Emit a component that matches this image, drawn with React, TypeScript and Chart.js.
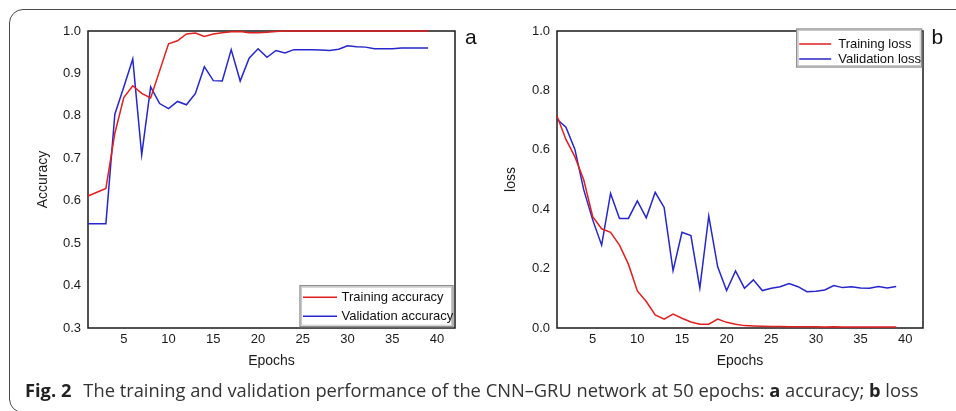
import React, { useEffect, useRef } from 'react';
import { Chart, registerables } from 'chart.js';

Chart.register(...registerables);

// ---------- data ----------
const epochs = [1, 2, 3, 4, 5, 6, 7, 8, 9, 10, 11, 12, 13, 14, 15, 16, 17, 18, 19, 20,
  21, 22, 23, 24, 25, 26, 27, 28, 29, 30, 31, 32, 33, 34, 35, 36, 37, 38, 39];

const trainingAccuracy = [0.611, 0.620, 0.629, 0.759, 0.843, 0.871, 0.853, 0.842, 0.906, 0.970,
  0.977, 0.993, 0.995, 0.987, 0.993, 0.996, 0.998, 0.999, 0.996, 0.996,
  0.997, 0.999, 1.0, 1.0, 1.0, 1.0, 1.0, 1.0, 1.0, 1.0,
  1.0, 1.0, 1.0, 1.0, 1.0, 1.0, 1.0, 1.0, 1.0];

const validationAccuracy = [0.546, 0.546, 0.546, 0.804, 0.868, 0.934, 0.708, 0.868, 0.829, 0.817,
  0.834, 0.826, 0.853, 0.916, 0.883, 0.882, 0.956, 0.882, 0.936, 0.958,
  0.938, 0.954, 0.948, 0.956, 0.956, 0.956, 0.955, 0.954, 0.957, 0.965,
  0.963, 0.962, 0.958, 0.958, 0.958, 0.960, 0.960, 0.960, 0.960];

const trainingLoss = [0.714, 0.635, 0.577, 0.498, 0.375, 0.334, 0.322, 0.279, 0.215, 0.125,
  0.089, 0.044, 0.030, 0.047, 0.033, 0.020, 0.013, 0.013, 0.030, 0.019,
  0.013, 0.008, 0.007, 0.006, 0.005, 0.005, 0.004, 0.004, 0.004, 0.004,
  0.003, 0.004, 0.003, 0.003, 0.003, 0.003, 0.003, 0.003, 0.003];

const validationLoss = [0.703, 0.676, 0.602, 0.465, 0.364, 0.279, 0.453, 0.369, 0.369, 0.428,
  0.371, 0.457, 0.406, 0.193, 0.322, 0.311, 0.134, 0.377, 0.206, 0.126,
  0.192, 0.134, 0.162, 0.126, 0.134, 0.139, 0.150, 0.139, 0.122, 0.124,
  0.128, 0.143, 0.136, 0.139, 0.135, 0.134, 0.140, 0.135, 0.140];

const xTickValues = [5, 10, 15, 20, 25, 30, 35, 40];
const accuracyTickValues = [0.3, 0.4, 0.5, 0.6, 0.7, 0.8, 0.9, 1.0];
const lossTickValues = [0.0, 0.2, 0.4, 0.6, 0.8, 1.0];

const accuracyLabels = ['Training accuracy', 'Validation accuracy'];
const lossLabels = ['Training loss', 'Validation loss'];

const RED = '#e01f1f';
const BLUE = '#2626cc';
const FONT = "Arial, 'Liberation Sans', sans-serif";

// ---------- plugins ----------
const framePlugin = {
  id: 'frame',
  beforeDatasetsDraw(chart: any) {
    const { ctx, chartArea: a } = chart;
    ctx.save();
    ctx.strokeStyle = '#1a1a1a';
    ctx.lineWidth = 1.5;
    ctx.strokeRect(a.left, a.top, a.right - a.left, a.bottom - a.top);
    ctx.restore();
  },
};

const boxLegend = {
  id: 'boxLegend',
  afterDatasetsDraw(chart: any, _args: any, o: any) {
    if (!o || !o.w) return;
    const { ctx, chartArea: a } = chart;
    const left = a.right - o.offRight - o.w;
    const top = o.anchor === 'bottom' ? a.bottom - o.offBottom - o.h : a.top + o.offTop;
    ctx.save();
    ctx.fillStyle = '#ffffff';
    ctx.fillRect(left, top, o.w, o.h);
    ctx.strokeStyle = '#c8c8c8';
    ctx.lineWidth = 1;
    ctx.strokeRect(left + 1.5, top + 1.5, o.w - 3, o.h - 3);
    ctx.strokeStyle = '#8a8a8a';
    ctx.lineWidth = 1.3;
    ctx.strokeRect(left, top, o.w, o.h);
    ctx.font = '13px ' + FONT;
    ctx.textBaseline = 'middle';
    ctx.textAlign = 'left';
    chart.data.datasets.forEach((ds: any, i: number) => {
      const y = top + o.firstRow + i * o.rowGap;
      ctx.strokeStyle = ds.borderColor;
      ctx.lineWidth = 1.6;
      ctx.beginPath();
      ctx.moveTo(left + o.sx0, y);
      ctx.lineTo(left + o.sx1, y);
      ctx.stroke();
      ctx.fillStyle = '#111';
      ctx.fillText(ds.label, left + o.tx, y + 0.5);
    });
    ctx.restore();
  },
};

function makeConfig(
  labels: string[],
  train: number[],
  valid: number[],
  yTicks: number[],
  yMin: number,
  yMax: number,
  yTitle: string,
  yAxisWidth: number,
  yTitlePad: number,
  padRight: number,
  legend: any
): any {
  return {
    type: 'line',
    data: {
      labels: epochs,
      datasets: [
        { label: labels[0], data: train, borderColor: RED, borderWidth: 1.5, pointRadius: 0, tension: 0, fill: false, clip: 3 },
        { label: labels[1], data: valid, borderColor: BLUE, borderWidth: 1.5, pointRadius: 0, tension: 0, fill: false, clip: 3 },
      ],
    },
    options: {
      responsive: false,
      animation: false,
      devicePixelRatio: 1,
      layout: { padding: { left: 0, top: 31, right: padRight, bottom: 0 } },
      plugins: {
        legend: { display: false },
        tooltip: { enabled: false },
        boxLegend: legend,
      },
      scales: {
        x: {
          type: 'linear',
          min: 1,
          max: 42,
          grid: { display: false, drawTicks: false },
          border: { display: false },
          afterBuildTicks: (axis: any) => {
            axis.ticks = xTickValues.map((v) => ({ value: v }));
          },
          afterFit: (axis: any) => {
            axis.height = 52;
          },
          ticks: {
            padding: 4,
            maxRotation: 0,
            autoSkip: false,
            color: '#1a1a1a',
            font: { family: FONT, size: 13 },
            callback: (v: any) => String(v),
          },
          title: {
            display: true,
            text: 'Epochs',
            color: '#1a1a1a',
            font: { family: FONT, size: 14 },
            padding: { top: 0, bottom: 10 },
          },
        },
        y: {
          type: 'linear',
          min: yMin,
          max: yMax,
          grid: { display: false, drawTicks: false },
          border: { display: false },
          afterBuildTicks: (axis: any) => {
            axis.ticks = yTicks.map((v) => ({ value: v }));
          },
          afterFit: (axis: any) => {
            axis.width = yAxisWidth;
          },
          ticks: {
            padding: 7,
            autoSkip: false,
            color: '#1a1a1a',
            font: { family: FONT, size: 13 },
            callback: (v: any) => Number(v).toFixed(1),
          },
          title: {
            display: true,
            text: yTitle,
            color: '#1a1a1a',
            font: { family: FONT, size: 14 },
            padding: { top: yTitlePad, bottom: 0 },
          },
        },
      },
    },
    plugins: [framePlugin, boxLegend],
  };
}

function ChartCanvas({ config, width, height }: { config: any; width: number; height: number }) {
  const ref = useRef<HTMLCanvasElement | null>(null);
  useEffect(() => {
    if (!ref.current) return;
    const chart = new Chart(ref.current, config);
    return () => chart.destroy();
  }, [config]);
  return <canvas ref={ref} width={width} height={height} style={{ width, height, display: 'block' }} />;
}

const accuracyConfig = makeConfig(
  accuracyLabels, trainingAccuracy, validationAccuracy, accuracyTickValues, 0.3, 1.0,
  'Accuracy', 88, 34.5, 25,
  { w: 153, h: 41, offRight: 2, offBottom: 1.3, anchor: 'bottom', firstRow: 11.5, rowGap: 19, sx0: 3, sx1: 37, tx: 41.5 }
);

const lossConfig = makeConfig(
  lossLabels, trainingLoss, validationLoss, lossTickValues, 0.0, 1.0,
  'loss', 77, 22.5, 33,
  { w: 125, h: 38, offRight: 1.3, offTop: -2, anchor: 'top', firstRow: 15, rowGap: 15, sx0: 2.5, sx1: 34.5, tx: 41.5 }
);

export default function App() {
  return (
    <div style={{ position: 'fixed', left: 0, top: 0, width: 956, height: 411, overflow: 'hidden', background: '#fff' }}>
      <div
        style={{
          position: 'absolute', left: 9, top: 9, width: 1000, height: 404, boxSizing: 'border-box',
          border: '1.5px solid #4a4a4a', borderRadius: 14,
        }}
      />
      <div style={{ position: 'absolute', left: 0, top: 0 }}>
        <ChartCanvas config={accuracyConfig} width={480} height={380} />
      </div>
      <div style={{ position: 'absolute', left: 480, top: 0 }}>
        <ChartCanvas config={lossConfig} width={476} height={380} />
      </div>
      <div style={{ position: 'absolute', left: 465, top: 25.5, fontFamily: FONT, fontSize: 21, lineHeight: '21px', color: '#111' }}>a</div>
      <div style={{ position: 'absolute', left: 931.5, top: 25.5, fontFamily: FONT, fontSize: 21, lineHeight: '21px', color: '#111' }}>b</div>
      <div
        style={{
          position: 'absolute', left: 25, top: 377, fontFamily: "'Open Sans', 'Noto Sans', sans-serif",
          fontSize: 18.3, lineHeight: '25px', color: '#333', whiteSpace: 'nowrap',
        }}
      >
        <b style={{ color: '#222', marginRight: 12 }}>Fig. 2</b>
        The training and validation performance of the CNN–GRU network at 50 epochs: <b style={{ color: '#222' }}>a</b> accuracy; <b style={{ color: '#222' }}>b</b> loss
      </div>
    </div>
  );
}
